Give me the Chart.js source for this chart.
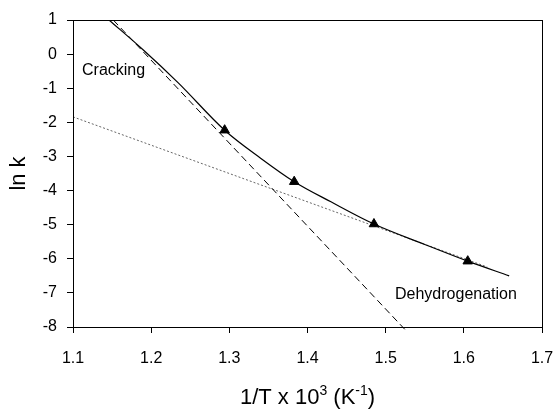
<!DOCTYPE html>
<html>
<head>
<meta charset="utf-8">
<script src="https://cdn.jsdelivr.net/npm/chart.js@4"></script>
<style>
  html, body { margin: 0; padding: 0; background: #fff; }
  #wrap { width: 557px; height: 409px; }
</style>
</head>
<body>
<div id="wrap"><canvas id="arrhenius" width="557" height="409"></canvas></div>
<script>
// measured rate constants (1/T x 10^3, ln k)
const invT = [1.294, 1.383, 1.485, 1.605];
const lnK = [-2.23, -3.74, -4.98, -6.07];

// overall fit curve through the measurements
const fitX = [1.146, 1.19, 1.235, 1.294, 1.34, 1.383, 1.43, 1.485, 1.55, 1.605, 1.658];
const fitY = [1.0, 0.12, -0.85, -2.23, -3.05, -3.74, -4.33, -4.98, -5.58, -6.07, -6.5];

// cracking contribution (straight line)
const crackX = [1.1515, 1.527];
const crackY = [1.0, -8.13];

// dehydrogenation contribution (straight line)
const dehydX = [1.1, 1.63];
const dehydY = [-1.84, -6.24];

const xTicks = [1.1, 1.2, 1.3, 1.4, 1.5, 1.6, 1.7];
const yTicks = [1, 0, -1, -2, -3, -4, -5, -6, -7, -8];

const toPts = (xs, ys) => xs.map((x, i) => ({ x: x, y: ys[i] }));
const FONT = "'Liberation Sans', Arial, sans-serif";

// frame around the plot area, labels and the x axis title with superscripts
const decor = {
  id: "decor",
  afterDatasetsDraw(chart) {
    const ctx = chart.ctx;
    const a = chart.chartArea;
    ctx.save();
    ctx.strokeStyle = "#000";
    ctx.lineWidth = 1;
    ctx.strokeRect(a.left + 0.5, a.top + 0.5, a.right - a.left, a.bottom - a.top);

    ctx.fillStyle = "#000";
    ctx.textBaseline = "middle";
    ctx.textAlign = "left";
    ctx.font = "16px " + FONT;
    ctx.fillText("Cracking", 82, 71);
    ctx.fillText("Dehydrogenation", 395, 295);

    // 1/T x 10^3 (K^-1)
    const parts = [
      { t: "1/T x 10", sup: false },
      { t: "3", sup: true },
      { t: " (K", sup: false },
      { t: "-1", sup: true },
      { t: ")", sup: false }
    ];
    const big = "22px " + FONT, small = "14px " + FONT;
    let total = 0;
    parts.forEach(p => {
      ctx.font = p.sup ? small : big;
      p.w = ctx.measureText(p.t).width;
      total += p.w;
    });
    let x = (a.left + a.right) / 2 - total / 2;
    const base = 404;
    ctx.textBaseline = "alphabetic";
    parts.forEach(p => {
      ctx.font = p.sup ? small : big;
      ctx.fillText(p.t, x, p.sup ? base - 9 : base);
      x += p.w;
    });
    ctx.restore();
  }
};

new Chart(document.getElementById("arrhenius").getContext("2d"), {
  type: "scatter",
  data: {
    datasets: [
      {
        label: "measured",
        data: toPts(invT, lnK),
        pointStyle: "triangle",
        pointRadius: 5.5,
        backgroundColor: "#000",
        borderColor: "#000",
        borderWidth: 1,
        showLine: false,
        order: 0
      },
      {
        label: "fit",
        data: toPts(fitX, fitY),
        showLine: true,
        borderColor: "#000",
        borderWidth: 1.2,
        pointRadius: 0,
        cubicInterpolationMode: "monotone",
        order: 1
      },
      {
        label: "cracking",
        data: toPts(crackX, crackY),
        showLine: true,
        borderColor: "#000",
        borderWidth: 1,
        borderDash: [7, 4],
        pointRadius: 0,
        clip: 6,
        order: 2
      },
      {
        label: "dehydrogenation",
        data: toPts(dehydX, dehydY),
        showLine: true,
        borderColor: "#666",
        borderWidth: 1,
        borderDash: [2, 2],
        pointRadius: 0,
        order: 3
      }
    ]
  },
  options: {
    responsive: false,
    animation: false,
    layout: { padding: { top: 20, right: 15, left: 0, bottom: 0 } },
    plugins: {
      legend: { display: false },
      tooltip: { enabled: false }
    },
    scales: {
      x: {
        type: "linear",
        min: 1.1,
        max: 1.7,
        // fixed axis height; end labels may overhang the plot edges
        afterFit: s => {
          s.height = 82;
          s.paddingLeft = 0;
          s.paddingRight = 0;
        },
        afterBuildTicks: s => { s.ticks = xTicks.map(v => ({ value: v })); },
        border: { display: true, color: "#000", width: 1 },
        grid: { drawOnChartArea: false, drawTicks: true, tickLength: 6, color: "#000" },
        ticks: {
          color: "#000",
          font: { family: FONT, size: 16 },
          padding: 16,
          maxRotation: 0,
          callback: v => v.toFixed(1)
        }
      },
      y: {
        type: "linear",
        min: -8,
        max: 1,
        afterFit: s => { s.width = 73; },
        afterBuildTicks: s => { s.ticks = yTicks.map(v => ({ value: v })); },
        border: { display: true, color: "#000", width: 1 },
        grid: { drawOnChartArea: false, drawTicks: true, tickLength: 6, color: "#000" },
        title: {
          display: true,
          text: "ln k",
          color: "#000",
          font: { family: FONT, size: 22 },
          padding: { top: 6, bottom: 0 }
        },
        ticks: {
          color: "#000",
          font: { family: FONT, size: 16 },
          padding: 10,
          callback: v => String(v)
        }
      }
    }
  },
  plugins: [decor]
});
</script>
</body>
</html>
